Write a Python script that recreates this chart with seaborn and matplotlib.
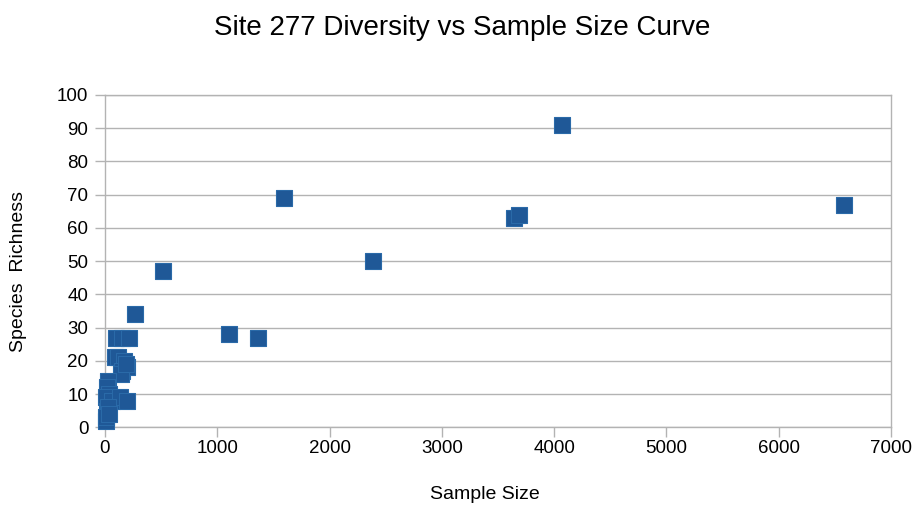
import matplotlib
matplotlib.use("Agg")
import matplotlib.pyplot as plt
import seaborn as sns
import pandas as pd

# sample size vs species richness
sample_size = [4070, 6580, 1590, 3640, 3690, 2390, 520, 1100, 1360, 270,
               100, 150, 210, 90, 120, 170, 150, 200, 140, 190,
               30, 20, 40, 10, 60, 130, 200, 15, 5, 25, 10, 35]
richness = [91, 67, 69, 63, 64, 50, 47, 28, 27, 34,
            27, 27, 27, 21, 21, 20, 17, 18, 16, 19,
            14, 12, 10, 9, 8, 9, 8, 5, 2, 6, 3, 4]

ds = pd.DataFrame({"Sample Size": sample_size, "Species Richness": richness})

sns.set_theme(style="whitegrid")
plt.rcParams["font.family"] = ["Liberation Sans", "DejaVu Sans"]

fig = plt.figure(figsize=(9.13, 5.05), dpi=100)
ax = fig.add_axes([0.115, 0.154, 0.861, 0.658])

sns.scatterplot(data=ds, x="Sample Size", y="Species Richness", ax=ax,
                marker="s", s=140, color="#1f5897", edgecolor="#2a6aa8",
                linewidth=0.8, zorder=3, clip_on=False)

ax.set_xlim(0, 7000)
ax.set_ylim(0, 100)
ax.set_xticks(range(0, 7001, 1000))
ax.set_yticks(range(0, 101, 10))
ax.xaxis.grid(False)
ax.yaxis.grid(True, color="#b3b3b3", linewidth=1)
for sp in ax.spines.values():
    sp.set_color("#b3b3b3")
    sp.set_linewidth(1)
ax.tick_params(axis="both", length=7, width=1, color="#b3b3b3",
               labelsize=13.5, labelcolor="black", pad=2, direction="out")
ax.tick_params(axis="y", pad=5)
ax.tick_params(axis="both", which="both", bottom=True, left=True)

ax.set_xlabel("Sample Size", fontsize=14, color="black")
ax.set_ylabel("Species  Richness", fontsize=14, color="black")
ax.xaxis.set_label_coords(0.483, -0.178)
ax.yaxis.set_label_coords(-0.099, 0.47)
fig.suptitle("Site 277 Diversity vs Sample Size Curve", fontsize=20,
             x=0.506, y=0.97, color="black")

fig.savefig("out.png", dpi=100)
